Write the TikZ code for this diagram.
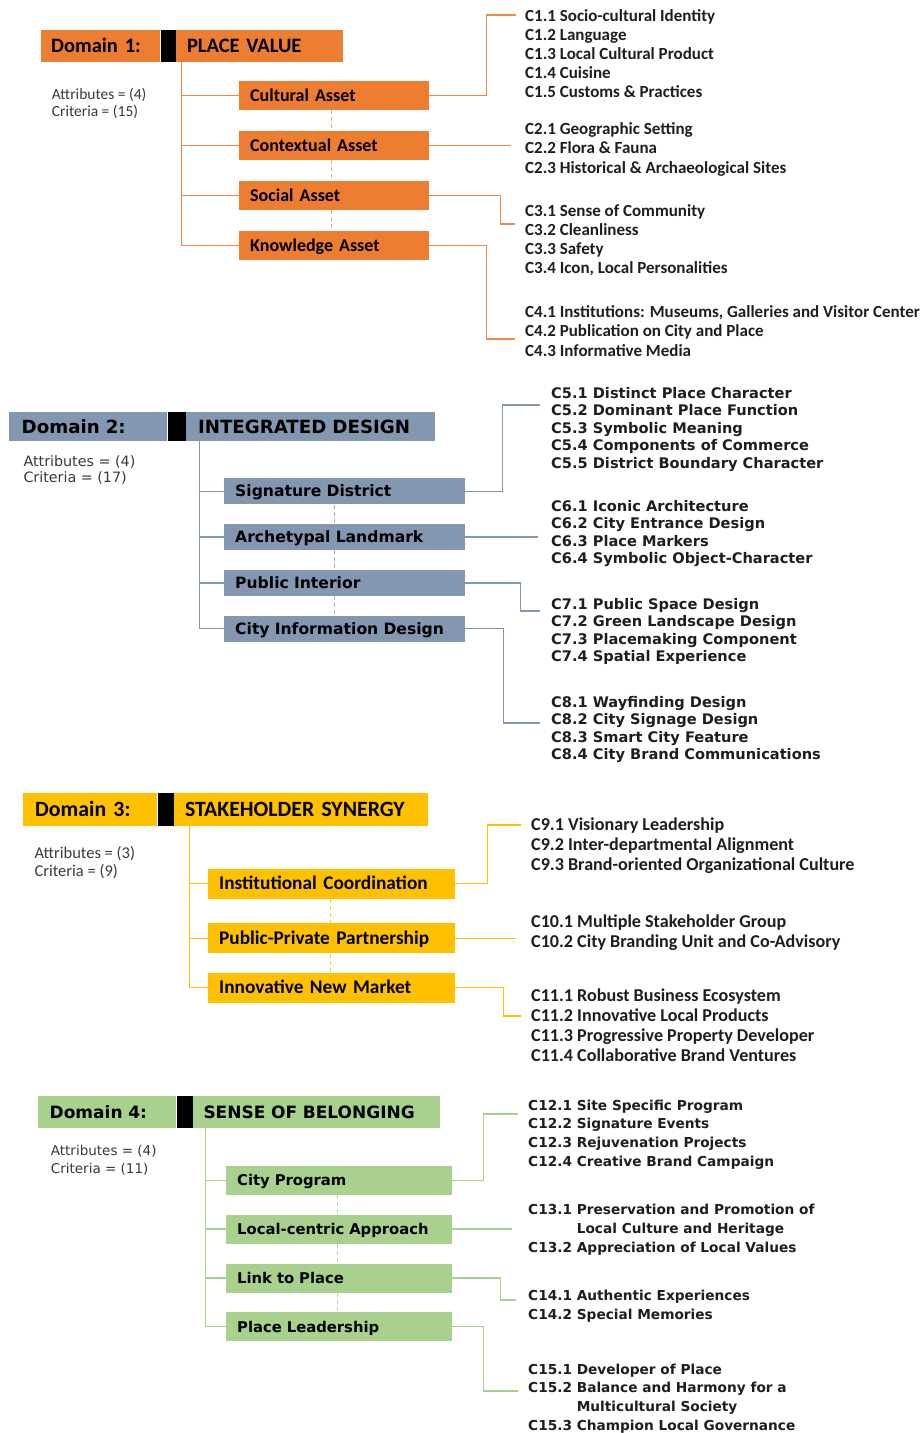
\documentclass[tikz,border=0pt]{standalone}
\usepackage{fontspec}
\setmainfont{Carlito}
\newfontfamily\dejavu{DejaVu Sans}
\usepackage{tikz}
\usetikzlibrary{positioning,calc}
\usepackage{xcolor}
\definecolor{pvorange}{HTML}{ED7D31}
\definecolor{idblue}{HTML}{8497B0}
\definecolor{ssgold}{HTML}{FFC000}
\definecolor{sbgreen}{HTML}{A9D18E}
\definecolor{inktext}{HTML}{1E1E1E}
\definecolor{notegray}{HTML}{3A3A3A}
\newcommand{\setfs}[2]{\fontsize{#1}{#2}\selectfont}

\tikzset{
  hd/.style={inner ysep=0pt, align=left, text depth=0pt, text=black},
  blk/.style={fill=black, inner sep=0pt, minimum width=#1},
  crit/.style={anchor=base west, inner sep=0pt, align=left, text=inktext},
  note/.style={anchor=base west, inner sep=0pt, align=left, text=notegray},
  % 领域 1
  d1hd/.style={hd, fill=pvorange, minimum height=32pt, font=\bfseries\setfs{20.5}{22}, text height=13pt},
  d1box/.style={hd, fill=pvorange, anchor=west, minimum height=29pt, inner xsep=11pt, text width=168pt, font=\bfseries\setfs{18}{20}, text height=11.4pt},
  d1line/.style={draw=pvorange!90, line width=1.3pt},
  d1dots/.style={draw=pvorange!65, line width=1.3pt, dash pattern=on 4pt off 3pt},
  % 领域 2
  d2hd/.style={hd, fill=idblue, minimum height=29pt, font=\dejavu\bfseries\setfs{18.2}{20}, text height=13.2pt},
  d2box/.style={hd, fill=idblue, anchor=west, minimum height=26pt, inner xsep=11pt, text width=219pt, font=\dejavu\bfseries\setfs{15.6}{17}, text height=11.3pt},
  d2line/.style={draw=idblue, line width=1.2pt},
  d2dots/.style={draw=idblue!75, line width=1.2pt, dash pattern=on 4pt off 3pt},
  % 领域 3
  d3hd/.style={hd, fill=ssgold, minimum height=33pt, font=\bfseries\setfs{21.8}{23}, text height=13.8pt},
  d3box/.style={hd, fill=ssgold, anchor=west, minimum height=30pt, inner xsep=11pt, text width=225pt, font=\bfseries\setfs{19.3}{21}, text height=12.1pt},
  d3line/.style={draw=ssgold, line width=1.3pt},
  d3dots/.style={draw=ssgold!85, line width=1.3pt, dash pattern=on 4pt off 3pt},
  % 领域 4
  d4hd/.style={hd, fill=sbgreen, minimum height=32pt, font=\dejavu\bfseries\setfs{17}{19}, text height=12.4pt},
  d4box/.style={hd, fill=sbgreen, anchor=west, minimum height=29pt, inner xsep=11pt, text width=204pt, font=\dejavu\bfseries\setfs{14.8}{17}, text height=10.8pt},
  d4line/.style={draw=sbgreen, line width=1.3pt},
  d4dots/.style={draw=sbgreen!80, line width=1.3pt, dash pattern=on 4pt off 3pt},
}

\begin{document}
\begin{tikzpicture}[x=1pt, y=-1pt]
  \path[use as bounding box, fill=white] (0,0) rectangle (924,1433);

  % 领域 1：标题
  \node[d1hd, anchor=north west, inner xsep=10pt, text width=99pt] (d1lab) at (41,30) {Domain 1:};
  \node[blk=15pt, minimum height=32pt, right=0pt of d1lab] (d1bar) {};
  \node[d1hd, inner xsep=11pt, text width=145pt, right=0pt of d1bar] (d1title) {PLACE VALUE};
  \node[note, font=\setfs{15.5}{17}] (d1note) at (51.7,116) {Attributes = (4)\\Criteria = (15)};
  % 属性
  \node[d1box] (cult) at (239,95.5) {Cultural Asset};
  \node[d1box] (cont) at (239,145.5) {Contextual Asset};
  \node[d1box] (soc) at (239,195.5) {Social Asset};
  \node[d1box] (know) at (239,245.5) {Knowledge Asset};
  \coordinate (d1trunk) at ($(d1title.south west)+(6,0)$);
  \draw[d1line] (d1trunk) |- (cult.west);
  \draw[d1line] (d1trunk) |- (cont.west);
  \draw[d1line] (d1trunk) |- (soc.west);
  \draw[d1line] (d1trunk) |- (know.west);
  \draw[d1dots] ($(cult.south)+(-3,0)$) -- ($(cont.north)+(-3,0)$);
  \draw[d1dots] ($(cont.south)+(-3,0)$) -- ($(soc.north)+(-3,0)$);
  \draw[d1dots] ($(soc.south)+(-3,0)$) -- ($(know.north)+(-3,0)$);
  % 标准（base = 末行基线）
  \node[crit, font=\bfseries\setfs{17}{19.2}] (c1) at (525,97.9) {C1.1 Socio-cultural Identity\\C1.2 Language\\C1.3 Local Cultural Product\\C1.4 Cuisine\\C1.5 Customs \& Practices};
  \node[crit, font=\bfseries\setfs{17}{19.2}] (c2) at (525,173.1) {C2.1 Geographic Setting\\C2.2 Flora \& Fauna\\C2.3 Historical \& Archaeological Sites};
  \node[crit, font=\bfseries\setfs{17}{19.2}] (c3) at (525,273.7) {C3.1 Sense of Community\\C3.2 Cleanliness\\C3.3 Safety\\C3.4 Icon, Local Personalities};
  \node[crit, font=\bfseries\setfs{17}{19.2}] (c4) at (525,356.1) {C4.1 Institutions: Museums, Galleries and Visitor Center\\C4.2 Publication on City and Place\\C4.3 Informative Media};
  \coordinate (c1in) at (516,15);
  \coordinate (c2in) at (511,146);
  \coordinate (c3in) at (515,224);
  \coordinate (c4in) at (515,339);
  \draw[d1line] (cult.east) -- ++(57,0) |- (c1in);
  \draw[d1line] (cont.east) -- (cont.east -| c2in);
  \draw[d1line] (soc.east) -- ++(71,0) |- (c3in);
  \draw[d1line] (know.east) -- ++(57,0) |- (c4in);

  % 领域 2：标题
  \node[d2hd, anchor=north west, inner xsep=12.5pt, text width=133pt] (d2lab) at (9,412) {Domain 2:};
  \node[blk=18pt, minimum height=29pt, right=0pt of d2lab] (d2bar) {};
  \node[d2hd, inner xsep=12pt, text width=225pt, right=0pt of d2bar] (d2title) {INTEGRATED DESIGN};
  \node[note, font=\dejavu\setfs{14.3}{16.7}] (d2note) at (23.3,482.7) {Attributes = (4)\\Criteria = (17)};
  % 属性
  \node[d2box] (sig) at (224,491.3) {Signature District};
  \node[d2box] (arch) at (224,537) {Archetypal Landmark};
  \node[d2box] (pub) at (224,583) {Public Interior};
  \node[d2box] (info) at (224,628.7) {City Information Design};
  \coordinate (d2trunk) at ($(d2title.south west)+(14,0)$);
  \draw[d2line] (d2trunk) |- (sig.west);
  \draw[d2line] (d2trunk) |- (arch.west);
  \draw[d2line] (d2trunk) |- (pub.west);
  \draw[d2line] (d2trunk) |- (info.west);
  \draw[d2dots] ($(sig.south)+(-10,0)$) -- ($(arch.north)+(-10,0)$);
  \draw[d2dots] ($(arch.south)+(-10,0)$) -- ($(pub.north)+(-10,0)$);
  \draw[d2dots] ($(pub.south)+(-10,0)$) -- ($(info.north)+(-10,0)$);
  % 标准
  \node[crit, font=\dejavu\bfseries\setfs{14.6}{17.5}] (c5) at (551,468) {C5.1 Distinct Place Character\\C5.2 Dominant Place Function\\C5.3 Symbolic Meaning\\C5.4 Components of Commerce\\C5.5 District Boundary Character};
  \node[crit, font=\dejavu\bfseries\setfs{14.6}{17.5}] (c6) at (551,563.8) {C6.1 Iconic Architecture\\C6.2 City Entrance Design\\C6.3 Place Markers\\C6.4 Symbolic Object-Character};
  \node[crit, font=\dejavu\bfseries\setfs{14.6}{17.5}] (c7) at (551,661.8) {C7.1 Public Space Design\\C7.2 Green Landscape Design\\C7.3 Placemaking Component\\C7.4 Spatial Experience};
  \node[crit, font=\dejavu\bfseries\setfs{14.6}{17.5}] (c8) at (551,759.8) {C8.1 Wayfinding Design\\C8.2 City Signage Design\\C8.3 Smart City Feature\\C8.4 City Brand Communications};
  \coordinate (c5in) at (540,405);
  \coordinate (c6in) at (538,537);
  \coordinate (c7in) at (540,611);
  \coordinate (c8in) at (540,723);
  \draw[d2line] (sig.east) -- ++(37,0) |- (c5in);
  \draw[d2line] (arch.east) -- (arch.east -| c6in);
  \draw[d2line] (pub.east) -- ++(55,0) |- (c7in);
  \draw[d2line] (info.east) -- ++(38,0) |- (c8in);

  % 领域 3：标题
  \node[d3hd, anchor=north west, inner xsep=12pt, text width=110pt] (d3lab) at (23,793) {Domain 3:};
  \node[blk=16pt, minimum height=33pt, right=0pt of d3lab] (d3bar) {};
  \node[d3hd, inner xsep=11pt, text width=232pt, right=0pt of d3bar] (d3title) {STAKEHOLDER SYNERGY};
  \node[note, font=\setfs{16.5}{18}] (d3note) at (34.3,876) {Attributes = (3)\\Criteria = (9)};
  % 属性
  \node[d3box] (inst) at (208,883.7) {Institutional Coordination};
  \node[d3box] (ppp) at (208,938.3) {Public-Private Partnership};
  \node[d3box] (inm) at (208,987.5) {Innovative New Market};
  \coordinate (d3trunk) at ($(d3title.south west)+(16,0)$);
  \draw[d3line] (d3trunk) |- (inst.west);
  \draw[d3line] (d3trunk) |- (ppp.west);
  \draw[d3line] (d3trunk) |- (inm.west);
  \draw[d3dots] ($(inst.south)+(-1,0)$) -- ($(ppp.north)+(-1,0)$);
  \draw[d3dots] ($(ppp.south)+(-1,0)$) -- ($(inm.north)+(-1,0)$);
  % 标准
  \node[crit, font=\bfseries\setfs{18.1}{20}] (c9) at (531,870.7) {C9.1 Visionary Leadership\\C9.2 Inter-departmental Alignment\\C9.3 Brand-oriented Organizational Culture};
  \node[crit, font=\bfseries\setfs{18.1}{20}] (c10) at (531,947.4) {C10.1 Multiple Stakeholder Group\\C10.2 City Branding Unit and Co-Advisory};
  \node[crit, font=\bfseries\setfs{18.1}{20}] (c11) at (531,1061.7) {C11.1 Robust Business Ecosystem\\C11.2 Innovative Local Products\\C11.3 Progressive Property Developer\\C11.4 Collaborative Brand Ventures};
  \coordinate (c9in) at (521,825);
  \coordinate (c10in) at (516,936);
  \coordinate (c11in) at (521,1016);
  \draw[d3line] (inst.east) -- ++(32,0) |- (c9in);
  \draw[d3line] (ppp.east) -- (ppp.east -| c10in);
  \draw[d3line] (inm.east) -- ++(48,0) |- (c11in);

  % 领域 4：标题
  \node[d4hd, anchor=north west, inner xsep=11.5pt, text width=115pt] (d4lab) at (38,1096) {Domain 4:};
  \node[blk=16pt, minimum height=32pt, right=0pt of d4lab] (d4bar) {};
  \node[d4hd, inner xsep=10.5pt, text width=226pt, right=0pt of d4bar] (d4title) {SENSE OF BELONGING};
  \node[note, font=\dejavu\setfs{13.5}{17.6}] (d4note) at (50.7,1173.2) {Attributes = (4)\\Criteria = (11)};
  % 属性
  \node[d4box] (prog) at (226,1180.5) {City Program};
  \node[d4box] (loc) at (226,1229) {Local-centric Approach};
  \node[d4box] (link) at (226,1278) {Link to Place};
  \node[d4box] (lead) at (226,1326.7) {Place Leadership};
  \coordinate (d4trunk) at ($(d4title.south west)+(13,0)$);
  \draw[d4line] (d4trunk) |- (prog.west);
  \draw[d4line] (d4trunk) |- (loc.west);
  \draw[d4line] (d4trunk) |- (link.west);
  \draw[d4line] (d4trunk) |- (lead.west);
  \draw[d4dots] ($(prog.south)+(-2,0)$) -- ($(loc.north)+(-2,0)$);
  \draw[d4dots] ($(loc.south)+(-2,0)$) -- ($(link.north)+(-2,0)$);
  \draw[d4dots] ($(link.south)+(-2,0)$) -- ($(lead.north)+(-2,0)$);
  % 标准
  \node[crit, font=\dejavu\bfseries\setfs{13.7}{18.7}] (c12) at (528,1166.1) {C12.1 Site Specific Program\\C12.2 Signature Events\\C12.3 Rejuvenation Projects\\C12.4 Creative Brand Campaign};
  \node[crit, font=\dejavu\bfseries\setfs{13.7}{19}] (c13) at (528,1252.2) {C13.1 Preservation and Promotion of\\\phantom{C13.1 }Local Culture and Heritage\\C13.2 Appreciation of Local Values};
  \node[crit, font=\dejavu\bfseries\setfs{13.7}{19}] (c14) at (528,1319) {C14.1 Authentic Experiences\\C14.2 Special Memories};
  \node[crit, font=\dejavu\bfseries\setfs{13.7}{18.6}] (c15) at (528,1430) {C15.1 Developer of Place\\C15.2 Balance and Harmony for a\\\phantom{C15.2 }Multicultural Society\\C15.3 Champion Local Governance};
  \coordinate (c12in) at (518,1114);
  \coordinate (c13in) at (512,1228);
  \coordinate (c14in) at (516,1300);
  \coordinate (c15in) at (518,1391);
  \draw[d4line] (prog.east) -- ++(31,0) |- (c12in);
  \draw[d4line] (loc.east) -- (loc.east -| c13in);
  \draw[d4line] (link.east) -- ++(48,0) |- (c14in);
  \draw[d4line] (lead.east) -- ++(31,0) |- (c15in);
\end{tikzpicture}
\end{document}
